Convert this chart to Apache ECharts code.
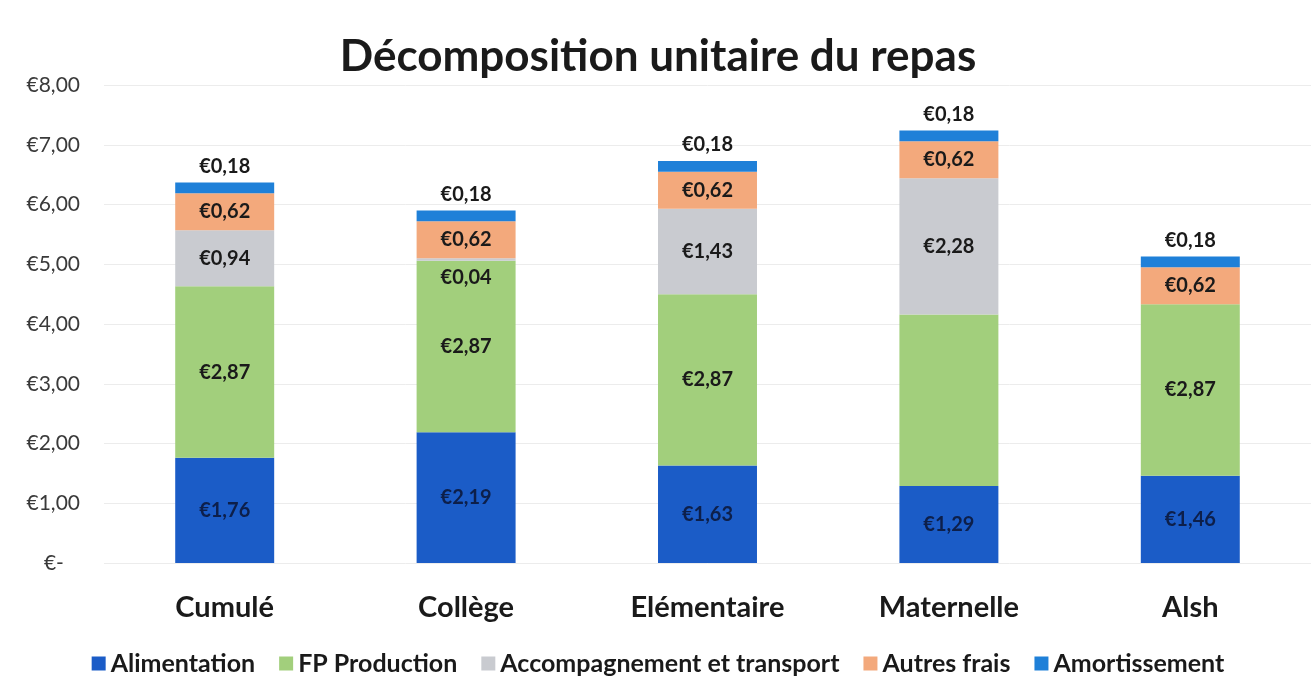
<!DOCTYPE html>
<html><head><meta charset="utf-8">
<script src="https://cdn.jsdelivr.net/npm/echarts@6/dist/echarts.min.js"></script>
<style>html,body{margin:0;padding:0;background:#fff}#c{width:1316px;height:693px}</style>
</head><body><div id="c"></div>
<script>
const categories = ['Cumulé', 'Collège', 'Elémentaire', 'Maternelle', 'Alsh'];
const seriesNames = ['Alimentation', 'FP Production', 'Accompagnement et transport', 'Autres frais', 'Amortissement'];
const alimentation = [1.76, 2.19, 1.63, 1.29, 1.46];
const fpProduction = [2.87, 2.87, 2.87, 2.87, 2.87];
const accompagnement = [0.94, 0.04, 1.43, 2.28, 0];
const autresFrais = [0.62, 0.62, 0.62, 0.62, 0.62];
const amortissement = [0.18, 0.18, 0.18, 0.18, 0.18];
const hiddenLabels = { 'FP Production': [3], 'Accompagnement et transport': [4] };
const yTicks = [0, 1, 2, 3, 4, 5, 6, 7, 8];

const colors = ['#1b5cc7', '#a2cf7c', '#c9cbd0', '#f3a97c', '#1f80d8'];
const values = [alimentation, fpProduction, accompagnement, autresFrais, amortissement];
const FONT = 'Lato';
const fmt = v => '€' + v.toFixed(2).replace('.', ',');

const series = seriesNames.map((name, i) => ({
  name, type: 'bar', stack: 'total', barWidth: '41%',
  itemStyle: { color: colors[i] },
  data: values[i].map((v, j) => {
    const hide = (hiddenLabels[name] || []).includes(j);
    if (hide) return { value: v, label: { show: false } };
    if (v > 0 && v < 0.1) return { value: v, label: { offset: [0, 18] } };
    return v;
  }),
  label: {
    show: true,
    position: i === 4 ? 'top' : 'inside',
    distance: 6,
    formatter: p => fmt(p.value),
    fontFamily: FONT, fontWeight: 'bold', fontSize: 20,
    color: i === 0 ? '#0d1f4a' : '#1a1a1a'
  }
}));

const chart = echarts.init(document.getElementById('c'), null, { renderer: 'canvas' });
chart.setOption({
  animation: false,
  backgroundColor: '#fff',
  title: {
    text: 'Décomposition unitaire du repas', left: 'center', top: 30,
    textStyle: { fontFamily: FONT, fontWeight: 'bold', fontSize: 44, color: '#1a1a1a' }
  },
  legend: {
    bottom: 12, left: 'center', itemWidth: 14, itemHeight: 14, itemGap: 24,
    icon: 'rect',
    textStyle: { fontFamily: FONT, fontWeight: 'bold', fontSize: 25, color: '#1a1a1a' },
    data: seriesNames
  },
  grid: { left: 104, right: 5, top: 85, bottom: 130 },
  xAxis: {
    type: 'category', data: categories,
    axisLine: { show: false }, axisTick: { show: false },
    axisLabel: { fontFamily: FONT, fontWeight: 'bold', fontSize: 29, color: '#1a1a1a', margin: 30 }
  },
  yAxis: {
    type: 'value', min: yTicks[0], max: yTicks[yTicks.length - 1], interval: 1,
    axisLine: { show: false }, axisTick: { show: false },
    splitLine: { lineStyle: { color: '#ececec', width: 1 } },
    axisLabel: {
      fontFamily: FONT, fontSize: 21, color: '#3a3a3a', margin: 24, align: 'right',
      formatter: v => v === 0 ? '€-   ' : fmt(v)
    }
  },
  series
});
</script></body></html>
